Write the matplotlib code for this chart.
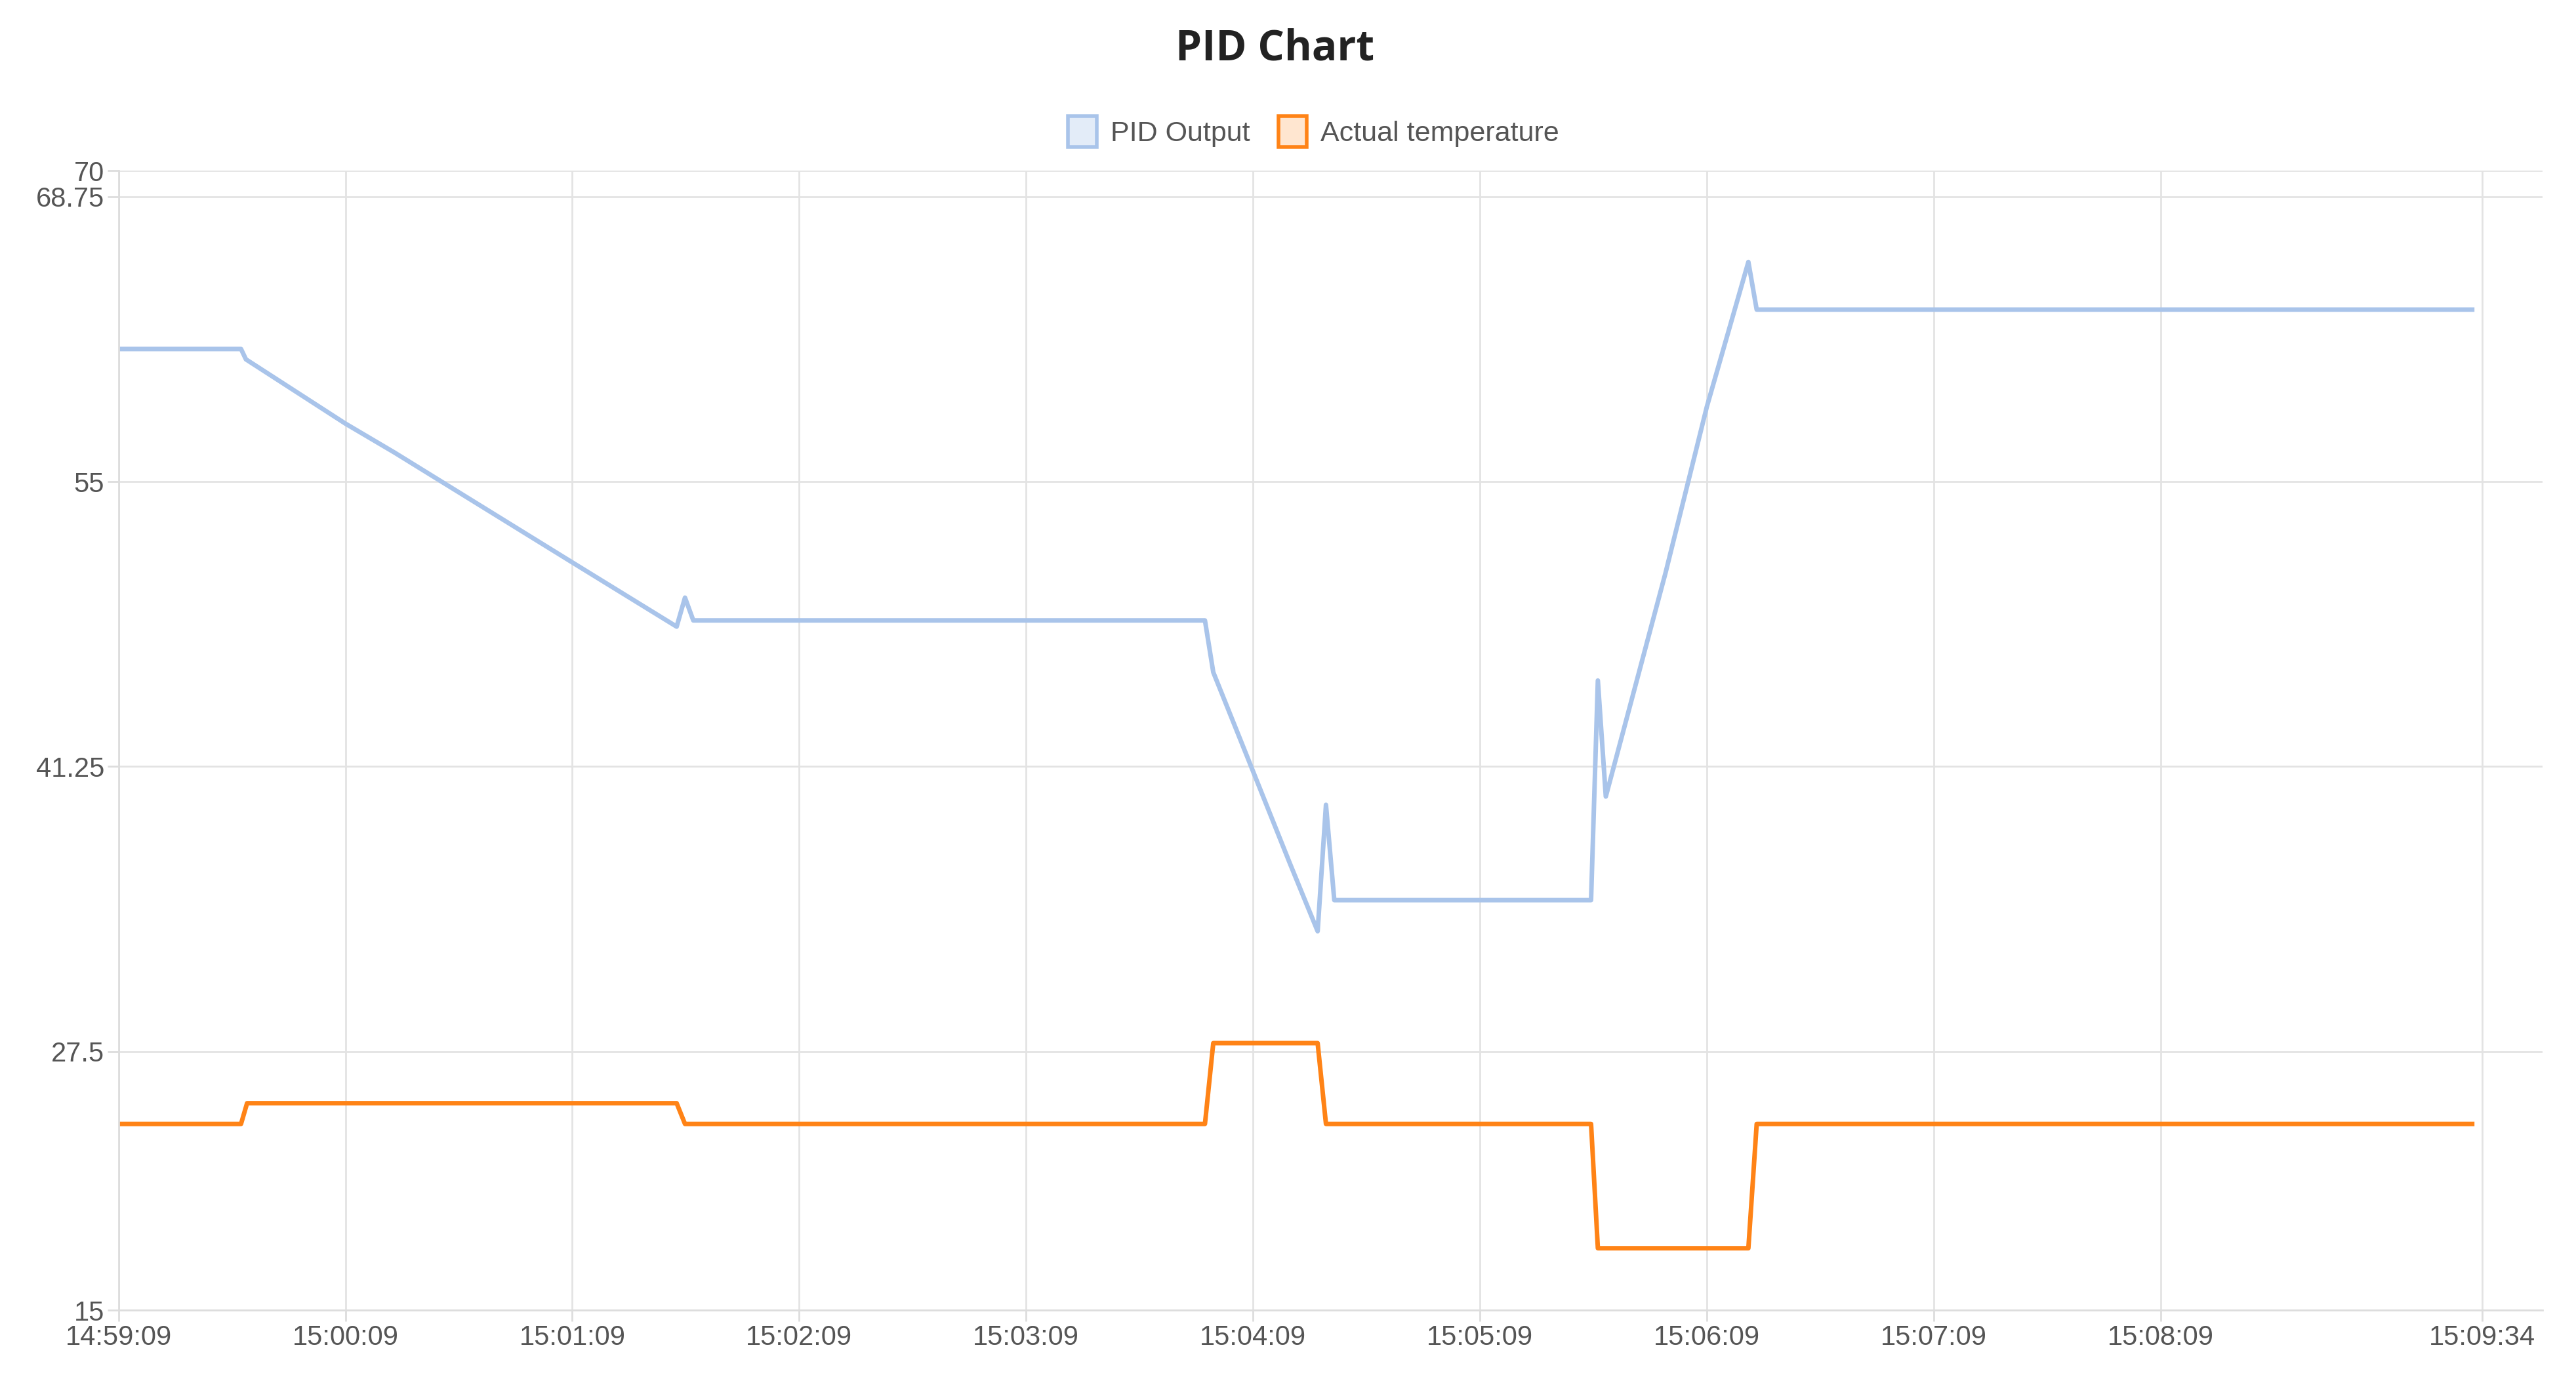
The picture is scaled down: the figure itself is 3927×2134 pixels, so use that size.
import matplotlib
matplotlib.use("Agg")
import matplotlib.pyplot as plt
from matplotlib.patches import Patch

plt.rcParams['font.family'] = ['Liberation Sans', 'DejaVu Sans']

pid_t = [0, 32.4, 33.7, 60, 73, 120, 147.6, 149.8, 152, 287.3, 289.5, 298.3, 309.7, 317.1, 319.3, 321.5, 389.4, 391.2, 393.3, 409.1, 420, 431, 433.2, 622.4]
pid_v = [61.4, 61.4, 60.9, 57.8, 56.4, 51.1, 48.0, 49.4, 48.3, 48.3, 45.8, 41.8, 36.6, 33.3, 39.4, 34.8, 34.8, 45.4, 39.8, 50.6, 58.6, 65.6, 63.3, 63.3]
temp_t = [0, 32.4, 34, 147.6, 149.8, 287.3, 289.5, 317.1, 319.3, 389.4, 391.2, 431, 433.2, 622.4]
temp_v = [24, 24, 25, 25, 24, 24, 27.9, 27.9, 24, 24, 18, 18, 24, 24]
x_ticks = [0, 60, 120, 180, 240, 300, 360, 420, 480, 540, 625]
x_labels = ["14:59:09", "15:00:09", "15:01:09", "15:02:09", "15:03:09", "15:04:09",
            "15:05:09", "15:06:09", "15:07:09", "15:08:09", "15:09:34"]
y_ticks = [15, 27.5, 41.25, 55, 68.75, 70]
y_labels = ["15", "27.5", "41.25", "55", "68.75", "70"]

blue = "#a9c4ea"
orange = "#ff8316"
fig = plt.figure(figsize=(39.27, 21.34), dpi=100)
ax = fig.add_axes([0.046, 0.064, 0.941, 0.814])
ax.plot(pid_t, pid_v, color=blue, lw=5)
ax.plot(temp_t, temp_v, color=orange, lw=5)
ax.set_xlim(0, 641)
ax.set_ylim(15, 70)
ax.set_xticks(x_ticks)
ax.set_xticklabels(x_labels)
ax.set_yticks(y_ticks)
ax.set_yticklabels(y_labels)
ax.tick_params(labelsize=30, colors="#555555", length=12, width=2, color="#dddddd")
ax.grid(True, color="#e3e3e3", lw=2)
for s in ["top", "right"]:
    ax.spines[s].set_visible(False)
for s in ["left", "bottom"]:
    ax.spines[s].set_color("#dddddd")
    ax.spines[s].set_linewidth(2)
fig.text(0.495, 0.965, "PID Chart", ha="center", va="center", fontsize=46, fontweight="bold",
         color="#222222", family=['Open Sans', 'DejaVu Sans'])
handles = [Patch(facecolor="#e3ecf8", edgecolor=blue, lw=4, label="PID Output"),
           Patch(facecolor="#ffe6d0", edgecolor=orange, lw=4, label="Actual temperature")]
fig.legend(handles=handles, loc="center", bbox_to_anchor=(0.51, 0.906), ncol=2, frameon=False,
           fontsize=31, handlelength=1.0, handleheight=1.3, handletextpad=0.5, columnspacing=1.0,
           labelcolor="#555555")
fig.savefig("out.png", dpi=100)
